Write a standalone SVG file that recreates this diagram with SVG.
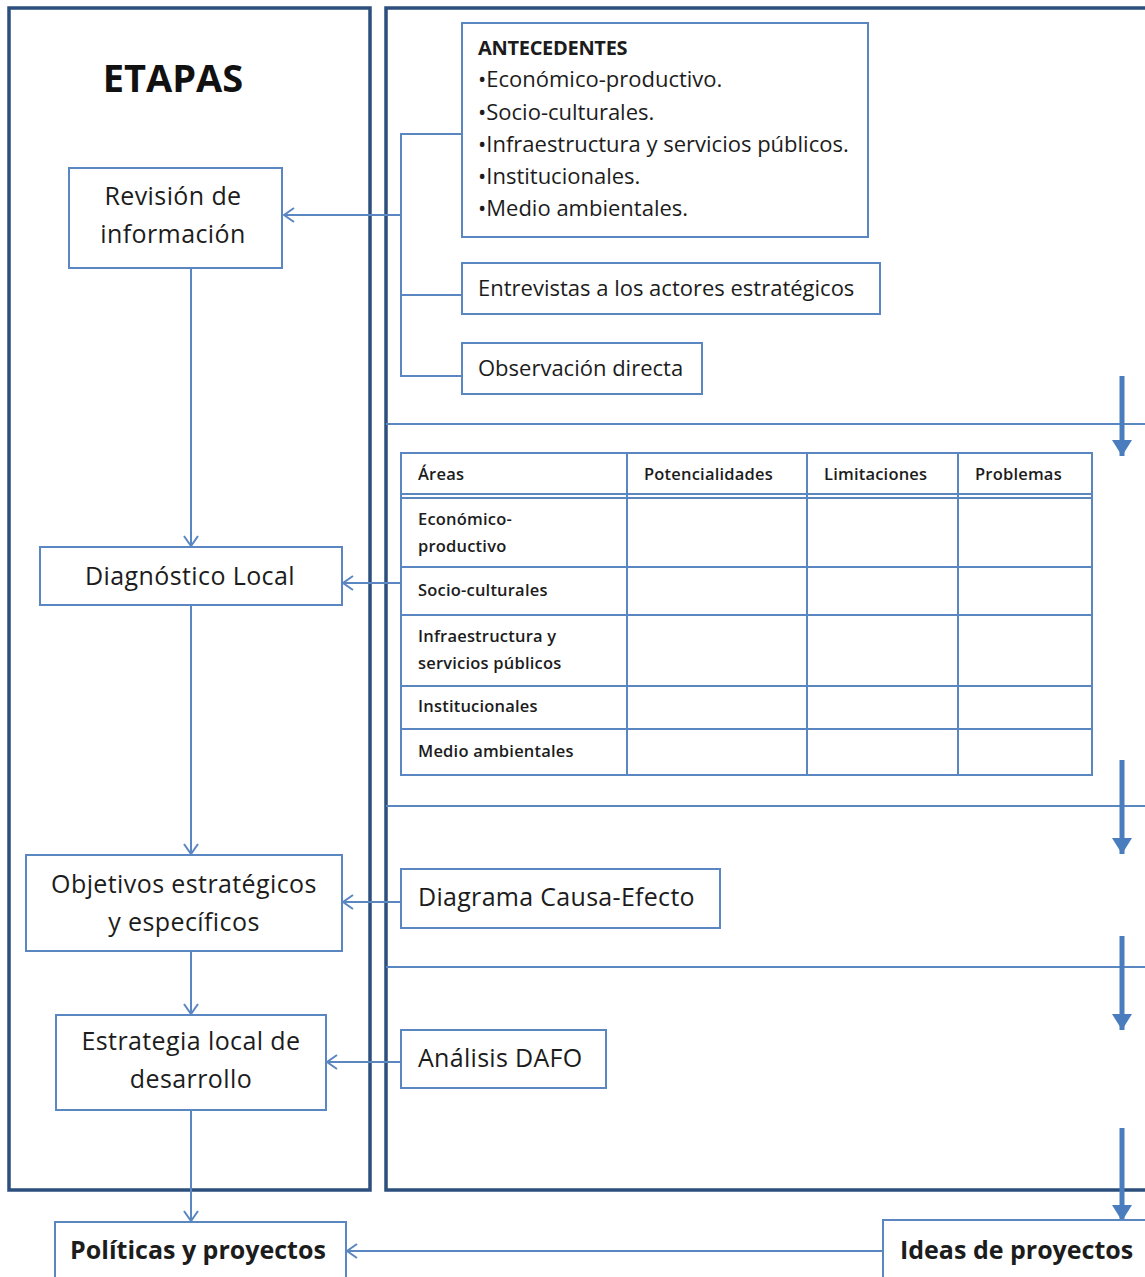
<svg xmlns="http://www.w3.org/2000/svg" width="1145" height="1277" viewBox="0 0 1145 1277">
<defs>
<style>
text{font-family:"Open Sans","Noto Sans","Liberation Sans",sans-serif;fill:#1c1c1c}
.box{fill:#fff;stroke:#5a86c2;stroke-width:2}
.panel{fill:none;stroke:#2c4f7e;stroke-width:3.5}
.sep{stroke:#5a86c2;stroke-width:2;fill:none}
.con{stroke:#5a86c2;stroke-width:2;fill:none}
.big{stroke:#4a7dbd;stroke-width:5;fill:none}
.t{font-size:25px;letter-spacing:0.3px}
.tc{font-size:25px;letter-spacing:0.4px;text-anchor:middle}
.s{font-size:22px}
.tb{font-size:16.5px;font-weight:600;letter-spacing:0.2px}
.grid{stroke:#5a86c2;stroke-width:2;fill:none}
</style>
<marker id="open" viewBox="0 0 12 16" refX="11" refY="8" markerWidth="12" markerHeight="16" markerUnits="userSpaceOnUse" orient="auto">
<path d="M1,1 L11,8 L1,15" fill="none" stroke="#5a86c2" stroke-width="2"/>
</marker>
<marker id="solid" viewBox="0 0 16 20" refX="16" refY="10" markerWidth="16" markerHeight="20" markerUnits="userSpaceOnUse" orient="auto">
<path d="M0,0 L16,10 L0,20 Z" fill="#4a7dbd"/>
</marker>
</defs>
<rect width="1145" height="1277" fill="#fff"/>

<g id="panels">
<rect class="panel" x="9" y="8" width="361" height="1182"/>
<rect class="panel" x="386" y="8" width="800" height="1182"/>
<line class="sep" x1="386" y1="424" x2="1145" y2="424"/>
<line class="sep" x1="386" y1="806" x2="1145" y2="806"/>
<line class="sep" x1="386" y1="967" x2="1145" y2="967"/>
</g>

<g id="title"><text x="173" y="92" style="font-size:38px;font-weight:bold;text-anchor:middle;fill:#111">ETAPAS</text></g>

<g id="connectors">
<path class="con" d="M462,134 H401 V376 H462 M401,295 H462"/>
<line class="con" x1="401" y1="215" x2="284" y2="215" marker-end="url(#open)"/>
<line class="con" x1="191" y1="268" x2="191" y2="546" marker-end="url(#open)"/>
<line class="con" x1="401" y1="583" x2="343" y2="583" marker-end="url(#open)"/>
<line class="con" x1="191" y1="605" x2="191" y2="854" marker-end="url(#open)"/>
<line class="con" x1="401" y1="902" x2="343" y2="902" marker-end="url(#open)"/>
<line class="con" x1="191" y1="951" x2="191" y2="1014" marker-end="url(#open)"/>
<line class="con" x1="401" y1="1062" x2="327" y2="1062" marker-end="url(#open)"/>
<line class="con" x1="191" y1="1110" x2="191" y2="1221" marker-end="url(#open)"/>
<line class="con" x1="883" y1="1251" x2="347" y2="1251" marker-end="url(#open)"/>
<line class="big" x1="1122" y1="376" x2="1122" y2="456" marker-end="url(#solid)"/>
<line class="big" x1="1122" y1="760" x2="1122" y2="854" marker-end="url(#solid)"/>
<line class="big" x1="1122" y1="936" x2="1122" y2="1030" marker-end="url(#solid)"/>
<line class="big" x1="1122" y1="1128" x2="1122" y2="1221" marker-end="url(#solid)"/>
</g>

<g id="revision">
<rect class="box" x="69" y="168" width="213" height="100"/>
<text class="tc" x="173" y="205">Revisión de</text>
<text class="tc" x="173" y="243">información</text>
</g>

<g id="antecedentes">
<rect class="box" x="462" y="23" width="406" height="214"/>
<text x="478" y="55" style="font-size:20px;font-weight:bold;letter-spacing:-0.3px">ANTECEDENTES</text>
<text class="s" x="478" y="87">•Económico-productivo.</text>
<text class="s" x="478" y="120">•Socio-culturales.</text>
<text class="s" x="478" y="152">•Infraestructura y servicios públicos.</text>
<text class="s" x="478" y="184">•Institucionales.</text>
<text class="s" x="478" y="216">•Medio ambientales.</text>
</g>

<g id="entrevistas">
<rect class="box" x="462" y="263" width="418" height="51"/>
<text class="s" x="478" y="296">Entrevistas a los actores estratégicos</text>
</g>

<g id="observacion">
<rect class="box" x="462" y="343" width="240" height="51"/>
<text class="s" x="478" y="376">Observación directa</text>
</g>

<g id="tabla">
<rect class="grid" x="401" y="453" width="691" height="322"/>
<path class="grid" d="M627,453 V775 M807,453 V775 M958,453 V775 M401,494 H1092 M401,498 H1092 M401,567 H1092 M401,615 H1092 M401,686 H1092 M401,729 H1092"/>
<text class="tb" x="418" y="480">Áreas</text>
<text class="tb" x="644" y="480">Potencialidades</text>
<text class="tb" x="824" y="480">Limitaciones</text>
<text class="tb" x="975" y="480">Problemas</text>
<text class="tb" x="418" y="525">Económico-</text>
<text class="tb" x="418" y="552">productivo</text>
<text class="tb" x="418" y="596">Socio-culturales</text>
<text class="tb" x="418" y="642">Infraestructura y</text>
<text class="tb" x="418" y="669">servicios públicos</text>
<text class="tb" x="418" y="712">Institucionales</text>
<text class="tb" x="418" y="757">Medio ambientales</text>
</g>

<g id="diagnostico">
<rect class="box" x="40" y="547" width="302" height="58"/>
<text class="tc" x="190" y="585">Diagnóstico Local</text>
</g>

<g id="objetivos">
<rect class="box" x="26" y="855" width="316" height="96"/>
<text class="tc" x="184" y="893">Objetivos estratégicos</text>
<text class="tc" x="184" y="931">y específicos</text>
</g>

<g id="causa">
<rect class="box" x="401" y="869" width="319" height="59"/>
<text class="t" x="418" y="906">Diagrama Causa-Efecto</text>
</g>

<g id="estrategia">
<rect class="box" x="56" y="1015" width="270" height="95"/>
<text class="tc" x="191" y="1050">Estrategia local de</text>
<text class="tc" x="191" y="1088">desarrollo</text>
</g>

<g id="dafo">
<rect class="box" x="401" y="1030" width="205" height="58"/>
<text class="t" x="418" y="1067">Análisis DAFO</text>
</g>

<g id="politicas">
<rect class="box" x="55" y="1222" width="291" height="60"/>
<text x="198" y="1259" style="font-size:25px;font-weight:bold;text-anchor:middle">Políticas y proyectos</text>
</g>

<g id="ideas">
<rect class="box" x="883" y="1220" width="280" height="62"/>
<text x="900" y="1259" style="font-size:25px;font-weight:bold">Ideas de proyectos</text>
</g>
</svg>
